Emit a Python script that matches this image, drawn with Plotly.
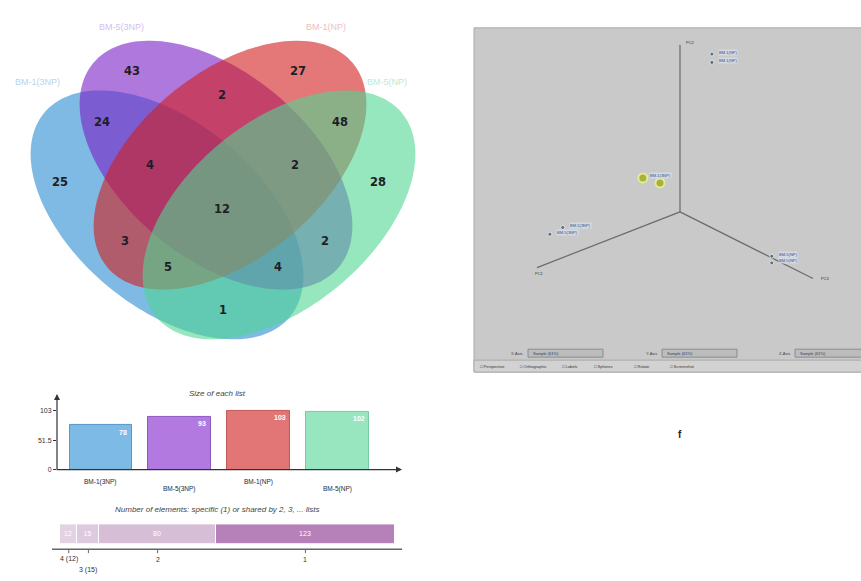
import numpy as np
import plotly.graph_objects as go

W, H = 861, 581

# ---------------------------------------------------------------- data
set_names = ["BM-1(3NP)", "BM-5(3NP)", "BM-1(NP)", "BM-5(NP)"]

# Venn regions: membership string over (A, B, C, D) and element count
region_keys = ["1000", "0100", "0010", "0001",
               "1100", "0110", "0011", "1001", "1010", "0101",
               "1110", "0111", "1011", "1101",
               "1111"]
region_counts = [25, 43, 27, 28,
                 24, 2, 48, 1, 3, 2,
                 4, 2, 5, 4,
                 12]

# PCA-style scores shown in the 3D viewer panel
score_x = [0.00, 0.00, 0.26, 0.14, 0.91, 0.82, 0.00, 0.00]
score_y = [0.24, 0.24, 0.00, 0.00, 0.00, 0.00, 0.69, 0.69]
score_z = [1.04, 0.99, 0.29, 0.22, 0.17, 0.18, 0.01, -0.03]
score_labels = ["BM-1(NP)", "BM-1(NP)", "BM-1(3NP)", "", "BM-5(3NP)", "BM-5(3NP)",
                "BM-5(NP)", "BM-5(NP)"]
score_group = [0, 0, 1, 1, 0, 0, 0, 0]
axis_names = ["PC1", "PC3", "PC2"]

# derived summaries
set_sizes = [sum(c for k, c in zip(region_keys, region_counts) if k[i] == "1")
             for i in range(4)]
degrees = [4, 3, 2, 1]
degree_counts = [sum(c for k, c in zip(region_keys, region_counts) if k.count("1") == d)
                 for d in degrees]

# ---------------------------------------------------------------- styling
set_colors = ["rgb(40,140,210)", "rgb(122,30,197)", "rgb(210,30,30)", "rgb(80,213,147)"]
bar_colors = ["rgb(126,186,230)", "rgb(178,122,224)", "rgb(226,118,118)", "rgb(152,230,192)"]
bar_edges = ["rgb(90,150,200)", "rgb(140,90,190)", "rgb(195,90,90)", "rgb(120,200,160)"]
label_tints = ["rgb(185,212,236)", "rgb(215,192,236)", "rgb(238,190,190)", "rgb(190,232,212)"]
degree_colors = ["rgb(226,210,226)", "rgb(222,202,222)", "rgb(214,190,214)", "rgb(182,128,184)"]

venn_ellipses = [(167, 216, 160, 93, 40), (216, 166, 160, 93, 40),
                 (230, 166, 160, 93, 140), (279, 216, 160, 93, 140)]
region_pos = {
    "1000": (60, 184), "0100": (132, 72), "0010": (298, 72), "0001": (378, 184),
    "1100": (102, 124), "0110": (222, 97), "0011": (340, 124), "1001": (223, 313),
    "1010": (125, 243), "0101": (325, 243), "1110": (150, 167), "0111": (295, 167),
    "1011": (168, 270), "1101": (278, 270), "1111": (222, 211),
}
set_label_pos = [(62, 82, "right"), (121, 27, "center"), (326, 27, "center"), (365, 82, "left")]

SANS = "Liberation Sans"


def ellipse_path(cx, cy, a, b, deg, n=160):
    t = np.linspace(0, 2 * np.pi, n, endpoint=False)
    th = np.radians(deg)
    x = cx + a * np.cos(th) * np.cos(t) - b * np.sin(th) * np.sin(t)
    y = cy + a * np.sin(th) * np.cos(t) + b * np.cos(th) * np.sin(t)
    return "M " + " L ".join(f"{xi:.2f},{yi:.2f}" for xi, yi in zip(x, y)) + " Z"


fig = go.Figure()
shapes = []
annotations = []

# ---------------------------------------------------------------- Venn diagram
for (cx, cy, a, b, deg), col in zip(venn_ellipses, set_colors):
    shapes.append(dict(type="path", path=ellipse_path(cx, cy, a, b, deg),
                       xref="x", yref="y", fillcolor=col, opacity=0.6,
                       line=dict(width=0), layer="below"))

fig.add_trace(go.Scatter(
    x=[region_pos[k][0] for k in region_keys],
    y=[region_pos[k][1] for k in region_keys],
    text=[str(c) for c in region_counts], mode="text",
    textfont=dict(family="DejaVu Sans", size=11.5, color="#1e1e28", weight="bold"),
    xaxis="x", yaxis="y", hoverinfo="skip", showlegend=False))

for name, (lx, ly, anc), tint in zip(set_names, set_label_pos, label_tints):
    annotations.append(dict(x=lx, y=ly, xref="x", yref="y", text=name, showarrow=False,
                            xanchor=anc, font=dict(family=SANS, size=9, color=tint)))

# ---------------------------------------------------------------- size of each list
fig.add_trace(go.Bar(
    x=list(range(4)), y=set_sizes, width=0.8,
    marker=dict(color=bar_colors, line=dict(color=bar_edges, width=1)),
    xaxis="x2", yaxis="y2", hoverinfo="skip", showlegend=False))
for i, v in enumerate(set_sizes):
    annotations.append(dict(x=i + 0.28, y=v, xref="x2", yref="y2", text=str(v),
                            showarrow=False, yshift=-7,
                            font=dict(family=SANS, size=7, color="white", weight="bold")))
    annotations.append(dict(x=i, y=484 if i % 2 == 0 else 492, xref="x2", yref="y",
                            text=set_names[i], showarrow=False,
                            font=dict(family=SANS, size=6.5, color="#2a2a2a")))
annotations.append(dict(x=217, y=396, xref="x", yref="y", text="<i>Size of each list</i>",
                        showarrow=False, font=dict(family=SANS, size=8, color="#444")))
# axis arrows
annotations.append(dict(x=57, y=396, ax=57, ay=473, xref="x", yref="y", axref="x", ayref="y",
                        text="", showarrow=True, arrowhead=2, arrowsize=1, arrowwidth=1.2,
                        arrowcolor="#333"))
annotations.append(dict(x=402, y=472, ax=55, ay=472, xref="x", yref="y", axref="x", ayref="y",
                        text="", showarrow=True, arrowhead=2, arrowsize=1, arrowwidth=1.2,
                        arrowcolor="#333"))

# ---------------------------------------------------------------- shared-by bar
total = sum(degree_counts)
starts = np.concatenate([[0], np.cumsum(degree_counts)[:-1]])
for d, c, s, col in zip(degrees, degree_counts, starts, degree_colors):
    fig.add_trace(go.Bar(
        x=[c], y=[0], base=[s], orientation="h", width=1,
        marker=dict(color=col, line=dict(color="white", width=1)),
        text=[str(c)], textposition="inside", insidetextanchor="middle",
        textfont=dict(family=SANS, size=7, color="white"),
        xaxis="x3", yaxis="y3", hoverinfo="skip", showlegend=False))
annotations.append(dict(x=217, y=512, xref="x", yref="y",
                        text="<i>Number of elements: specific (1) or shared by 2, 3, ... lists</i>",
                        showarrow=False, font=dict(family=SANS, size=8, color="#444")))
shapes.append(dict(type="line", xref="x", yref="y", x0=52, x1=402, y0=552, y1=552,
                   line=dict(color="#666", width=1.5)))
for j, (d, c, s) in enumerate(zip(degrees, degree_counts, starts)):
    mid = s + c / 2
    shapes.append(dict(type="line", xref="x3", yref="y", x0=mid, x1=mid, y0=552, y1=556,
                       line=dict(color="#666", width=1)))
    lab = f"{d} ({c})" if c < 20 else str(d)
    annotations.append(dict(x=mid, y=573 if j == 1 else 562, xref="x3", yref="y", text=lab,
                            showarrow=False, font=dict(family=SANS, size=7, color="#333")))

# ---------------------------------------------------------------- 3D viewer panel
shapes.append(dict(type="rect", xref="x", yref="y", x0=474, x1=863, y0=28, y1=374,
                   fillcolor="#c9c9c9", line=dict(color="#a9a9a9", width=1), layer="below"))
shapes.append(dict(type="rect", xref="x", yref="y", x0=474, x1=863, y0=362, y1=374,
                   fillcolor="#d2d2d2", line=dict(color="#aaaaaa", width=1), layer="below"))
for bx0, bx1, lab in [(528, 603, "X-Axis"), (662, 737, "Y-Axis"), (795, 863, "Z-Axis")]:
    shapes.append(dict(type="rect", xref="x", yref="y", x0=bx0, x1=bx1, y0=351, y1=359,
                       fillcolor="#bcbcbc", line=dict(color="#8c8c8c", width=1), layer="below"))
    annotations.append(dict(x=bx0 - 3, y=355, xref="x", yref="y", text=lab, showarrow=False,
                            xanchor="right", font=dict(family=SANS, size=4, color="#444")))
    annotations.append(dict(x=bx0 + 3, y=355, xref="x", yref="y", text="Sample (61%)",
                            showarrow=False, xanchor="left",
                            font=dict(family=SANS, size=4, color="#2a3f6a")))
for tx, lab in [(478, "Perspective"), (518, "Orthographic"), (560, "Labels"),
                (592, "Spheres"), (632, "Rotate"), (668, "Screenshot")]:
    annotations.append(dict(x=tx, y=368, xref="x", yref="y", text="\u25a1 " + lab,
                            showarrow=False, xanchor="left",
                            font=dict(family=SANS, size=4, color="#333")))

ORIGIN = np.array([680.0, 213.0])
BASIS = np.array([[-143.0, 56.0], [133.0, 67.0], [0.0, -168.0]])


def project(px, py, pz):
    p = (ORIGIN + np.outer(px, BASIS[0]) + np.outer(py, BASIS[1])
         + np.outer(pz, BASIS[2]))
    return p[:, 0], p[:, 1]


unit = np.eye(3)
for k in range(3):
    lx, ly = project([0, unit[k, 0]], [0, unit[k, 1]], [0, unit[k, 2]])
    fig.add_trace(go.Scatter(x=lx, y=ly, mode="lines", line=dict(color="#6a6a6a", width=1.2),
                             xaxis="x", yaxis="y", hoverinfo="skip", showlegend=False))
    off = [(-4, 6, "left"), (6, 0, "left"), (4, -2, "left")][k]
    annotations.append(dict(x=lx[1] + off[0], y=ly[1] + off[1], xref="x", yref="y",
                            text=axis_names[k], showarrow=False, xanchor=off[2],
                            font=dict(family=SANS, size=4, color="#333")))

sx, sy = project(score_x, score_y, score_z)
g = np.array(score_group)
fig.add_trace(go.Scatter(
    x=sx[g == 0], y=sy[g == 0], mode="markers",
    marker=dict(size=4, color="rgb(95,110,115)", line=dict(color="rgb(220,230,240)", width=1)),
    xaxis="x", yaxis="y", hoverinfo="skip", showlegend=False))
fig.add_trace(go.Scatter(
    x=sx[g == 1], y=sy[g == 1], mode="markers",
    marker=dict(size=9, color="rgb(165,178,60)", line=dict(color="rgb(228,234,150)", width=2)),
    xaxis="x", yaxis="y", hoverinfo="skip", showlegend=False))
for xv, yv, lab in zip(sx, sy, score_labels):
    if lab:
        annotations.append(dict(x=xv + 6, y=yv - 2, xref="x", yref="y", text=lab,
                                showarrow=False, xanchor="left", bgcolor="rgba(215,222,235,0.8)",
                                borderpad=0,
                                font=dict(family=SANS, size=4, color="#2f4f85")))

annotations.append(dict(x=680, y=437, xref="x", yref="y", text="f", showarrow=False,
                        font=dict(family=SANS, size=10, color="#222", weight="bold")))

# ---------------------------------------------------------------- layout
hidden = dict(visible=False, showgrid=False, zeroline=False)
ypx = lambda p: (H - p) / H

fig.update_layout(
    width=W, height=H, margin=dict(l=0, r=0, t=0, b=0),
    paper_bgcolor="white", plot_bgcolor="rgba(0,0,0,0)",
    barmode="overlay", bargap=0,
    xaxis=dict(hidden, domain=[0, 1], range=[0, W]),
    yaxis=dict(hidden, domain=[0, 1], range=[H, 0]),
    xaxis2=dict(hidden, domain=[57 / W, 400 / W], range=[-0.559, 3.80], anchor="y2"),
    yaxis2=dict(domain=[ypx(472), ypx(400)], range=[0, 125.7], anchor="x2",
                tickvals=[0, max(set_sizes) / 2, max(set_sizes)],
                ticktext=["0", f"{max(set_sizes) / 2:g}", str(max(set_sizes))],
                ticks="outside", ticklen=3, tickcolor="#333",
                tickfont=dict(family=SANS, size=7, color="#333"),
                showgrid=False, zeroline=False, showline=False),
    xaxis3=dict(hidden, domain=[60 / W, 395 / W], range=[0, total], anchor="y3"),
    yaxis3=dict(hidden, domain=[ypx(547), ypx(527)], range=[-0.5, 0.5], anchor="x3"),
    shapes=shapes, annotations=annotations,
)

fig.write_html("out.html")
